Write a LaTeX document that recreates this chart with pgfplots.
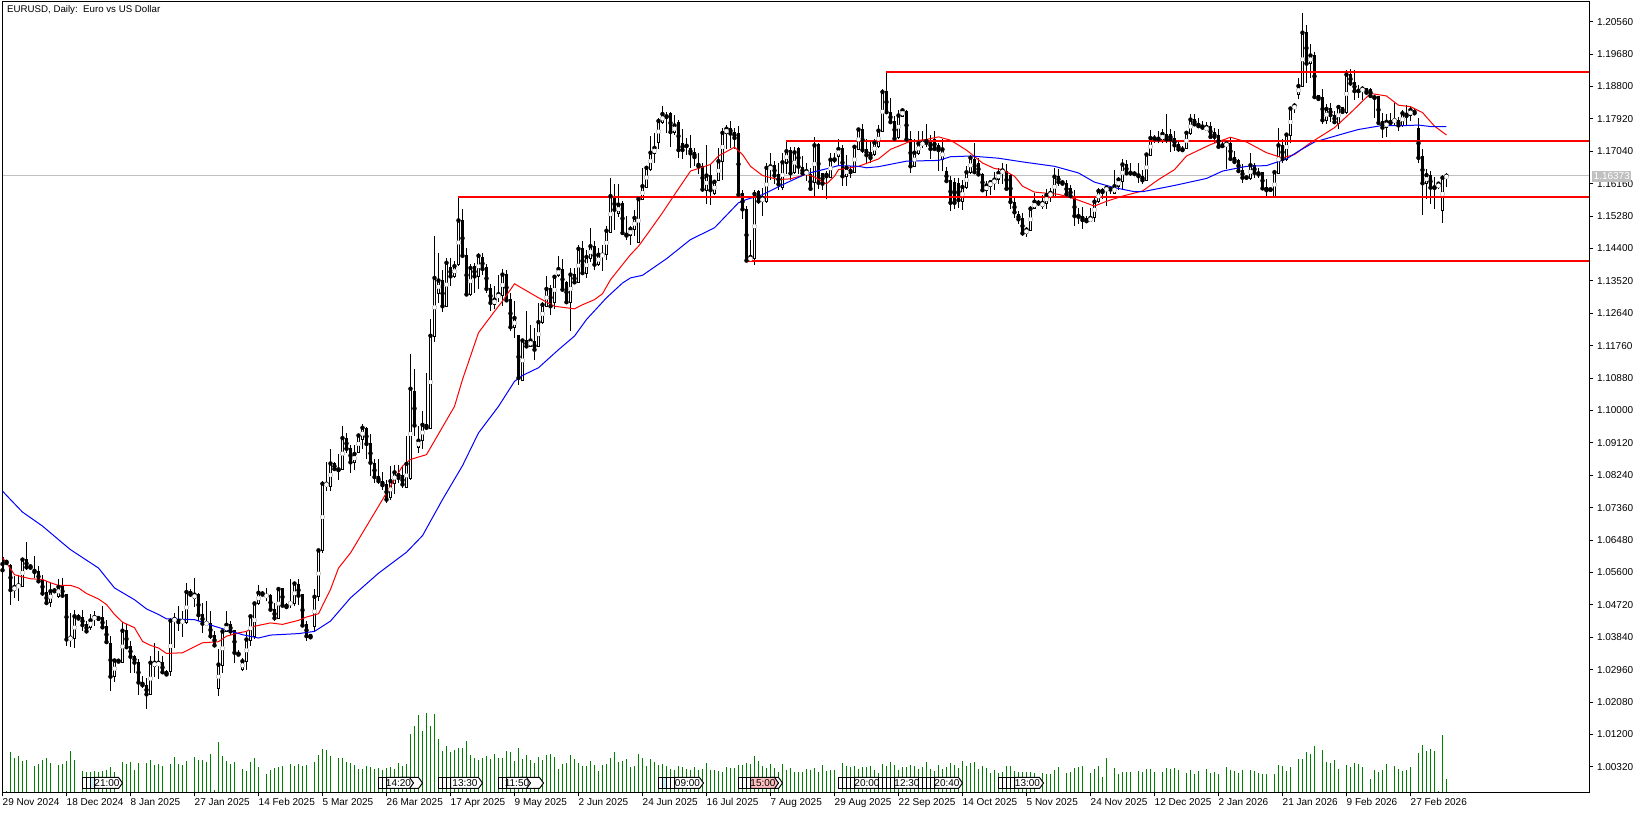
\documentclass[border=0pt]{standalone}
\usepackage{pgfplots}
\pgfplotsset{compat=1.18}
\usepackage{pgfplotstable}
\usepackage{fontspec}
\setmainfont{Liberation Sans}
\pgfplotstableread{
k o h l c
0 1.0600 1.0604 1.0565 1.0566
1 1.0592 1.0595 1.0582 1.0586
2 1.0580 1.0582 1.0471 1.0512
3 1.0512 1.0550 1.0491 1.0521
4 1.0521 1.0552 1.0482 1.0525
5 1.0523 1.0600 1.0521 1.0595
6 1.0595 1.0642 1.0568 1.0574
7 1.0580 1.0583 1.0570 1.0573
8 1.0568 1.0606 1.0545 1.0561
9 1.0562 1.0577 1.0532 1.0536
10 1.0539 1.0554 1.0496 1.0503
11 1.0505 1.0536 1.0473 1.0477
12 1.0479 1.0532 1.0467 1.0509
13 1.0514 1.0518 1.0505 1.0509
14 1.0496 1.0541 1.0491 1.0521
15 1.0521 1.0545 1.0491 1.0497
16 1.0500 1.0502 1.0360 1.0378
17 1.0378 1.0450 1.0357 1.0383
18 1.0380 1.0458 1.0355 1.0441
19 1.0443 1.0446 1.0430 1.0435
20 1.0439 1.0459 1.0400 1.0417
21 1.0419 1.0428 1.0396 1.0400
22 1.0411 1.0446 1.0405 1.0430
23 1.0434 1.0455 1.0414 1.0439
24 1.0439 1.0440 1.0433 1.0434
25 1.0437 1.0470 1.0407 1.0411
26 1.0412 1.0432 1.0367 1.0371
27 1.0367 1.0387 1.0238 1.0277
28 1.0277 1.0321 1.0262 1.0321
29 1.0323 1.0325 1.0315 1.0318
30 1.0316 1.0426 1.0315 1.0402
31 1.0402 1.0419 1.0355 1.0357
32 1.0360 1.0373 1.0287 1.0331
33 1.0333 1.0337 1.0287 1.0315
34 1.0316 1.0324 1.0227 1.0261
35 1.0262 1.0278 1.0247 1.0254
36 1.0253 1.0274 1.0190 1.0229
37 1.0229 1.0333 1.0229 1.0315
38 1.0306 1.0369 1.0275 1.0315
39 1.0308 1.0346 1.0272 1.0315
40 1.0315 1.0333 1.0287 1.0289
41 1.0290 1.0295 1.0280 1.0283
42 1.0292 1.0432 1.0278 1.0429
43 1.0428 1.0450 1.0355 1.0434
44 1.0432 1.0470 1.0400 1.0425
45 1.0425 1.0455 1.0385 1.0428
46 1.0423 1.0532 1.0421 1.0507
47 1.0509 1.0514 1.0494 1.0500
48 1.0490 1.0545 1.0467 1.0500
49 1.0500 1.0505 1.0428 1.0444
50 1.0446 1.0477 1.0396 1.0421
51 1.0420 1.0482 1.0419 1.0423
52 1.0421 1.0455 1.0378 1.0387
53 1.0390 1.0400 1.0360 1.0362
54 1.0244 1.0351 1.0224 1.0310
55 1.0308 1.0405 1.0287 1.0400
56 1.0399 1.0455 1.0398 1.0418
57 1.0419 1.0428 1.0391 1.0400
58 1.0402 1.0405 1.0315 1.0342
59 1.0342 1.0349 1.0333 1.0337
60 1.0296 1.0328 1.0292 1.0319
61 1.0319 1.0400 1.0296 1.0378
62 1.0376 1.0443 1.0360 1.0441
63 1.0385 1.0477 1.0378 1.0476
64 1.0475 1.0527 1.0473 1.0505
65 1.0506 1.0509 1.0497 1.0500
66 1.0496 1.0518 1.0482 1.0497
67 1.0498 1.0502 1.0458 1.0459
68 1.0459 1.0477 1.0428 1.0436
69 1.0436 1.0518 1.0434 1.0515
70 1.0517 1.0518 1.0468 1.0470
71 1.0473 1.0477 1.0461 1.0466
72 1.0476 1.0541 1.0464 1.0477
73 1.0477 1.0534 1.0470 1.0530
74 1.0527 1.0541 1.0473 1.0497
75 1.0500 1.0502 1.0412 1.0416
76 1.0419 1.0428 1.0373 1.0387
77 1.0391 1.0393 1.0382 1.0384
78 1.0414 1.0515 1.0400 1.0494
79 1.0494 1.0622 1.0482 1.0620
80 1.0620 1.0808 1.0612 1.0801
81 1.0796 1.0860 1.0781 1.0801
82 1.0794 1.0896 1.0781 1.0856
83 1.0856 1.0859 1.0839 1.0841
84 1.0842 1.0883 1.0812 1.0838
85 1.0841 1.0957 1.0839 1.0925
86 1.0925 1.0939 1.0885 1.0896
87 1.0896 1.0907 1.0830 1.0859
88 1.0859 1.0907 1.0837 1.0882
89 1.0887 1.0936 1.0885 1.0932
90 1.0921 1.0962 1.0894 1.0953
91 1.0950 1.0954 1.0868 1.0909
92 1.0909 1.0936 1.0821 1.0858
93 1.0856 1.0867 1.0803 1.0819
94 1.0820 1.0867 1.0799 1.0808
95 1.0808 1.0832 1.0785 1.0797
96 1.0799 1.0812 1.0749 1.0758
97 1.0763 1.0849 1.0758 1.0808
98 1.0803 1.0853 1.0772 1.0832
99 1.0830 1.0853 1.0803 1.0817
100 1.0823 1.0850 1.0790 1.0799
101 1.0792 1.0930 1.0790 1.0855
102 1.0814 1.1152 1.0812 1.1059
103 1.1052 1.1113 1.0930 1.0959
104 1.0900 1.0957 1.0885 1.0918
105 1.0919 1.0998 1.0894 1.0961
106 1.0962 1.1102 1.0953 1.0953
107 1.0951 1.1247 1.0950 1.1203
108 1.1200 1.1475 1.1185 1.1360
109 1.1319 1.1428 1.1292 1.1353
110 1.1353 1.1382 1.1267 1.1283
111 1.1283 1.1414 1.1281 1.1401
112 1.1389 1.1414 1.1337 1.1364
113 1.1364 1.1405 1.1360 1.1392
114 1.1396 1.1579 1.1393 1.1516
115 1.1516 1.1547 1.1419 1.1420
116 1.1420 1.1441 1.1310 1.1315
117 1.1315 1.1398 1.1312 1.1387
118 1.1390 1.1401 1.1319 1.1364
119 1.1363 1.1428 1.1330 1.1420
120 1.1414 1.1428 1.1369 1.1384
121 1.1387 1.1399 1.1319 1.1330
122 1.1330 1.1344 1.1269 1.1292
123 1.1289 1.1337 1.1276 1.1301
124 1.1306 1.1369 1.1294 1.1316
125 1.1312 1.1384 1.1283 1.1369
126 1.1369 1.1382 1.1294 1.1299
127 1.1301 1.1319 1.1215 1.1226
128 1.1224 1.1298 1.1197 1.1251
129 1.1203 1.1206 1.1070 1.1088
130 1.1082 1.1190 1.1079 1.1190
131 1.1190 1.1271 1.1170 1.1174
132 1.1174 1.1233 1.1173 1.1190
133 1.1186 1.1224 1.1136 1.1165
134 1.1174 1.1292 1.1173 1.1240
135 1.1238 1.1294 1.1236 1.1287
136 1.1283 1.1366 1.1281 1.1330
137 1.1330 1.1342 1.1258 1.1283
138 1.1292 1.1364 1.1276 1.1363
139 1.1366 1.1420 1.1363 1.1384
140 1.1384 1.1410 1.1326 1.1328
141 1.1348 1.1351 1.1292 1.1294
142 1.1292 1.1387 1.1215 1.1369
143 1.1369 1.1387 1.1346 1.1348
144 1.1348 1.1450 1.1346 1.1439
145 1.1439 1.1459 1.1369 1.1373
146 1.1372 1.1437 1.1360 1.1417
147 1.1414 1.1496 1.1402 1.1446
148 1.1446 1.1459 1.1382 1.1396
149 1.1396 1.1441 1.1392 1.1423
150 1.1420 1.1450 1.1378 1.1423
151 1.1423 1.1500 1.1408 1.1488
152 1.1484 1.1631 1.1482 1.1582
153 1.1577 1.1616 1.1491 1.1545
154 1.1534 1.1615 1.1525 1.1559
155 1.1561 1.1568 1.1478 1.1482
156 1.1480 1.1527 1.1462 1.1475
157 1.1475 1.1500 1.1450 1.1493
158 1.1491 1.1545 1.1473 1.1523
159 1.1457 1.1583 1.1455 1.1574
160 1.1573 1.1659 1.1571 1.1609
161 1.1606 1.1665 1.1605 1.1659
162 1.1654 1.1745 1.1650 1.1700
163 1.1697 1.1754 1.1672 1.1713
164 1.1729 1.1795 1.1709 1.1786
165 1.1781 1.1828 1.1779 1.1805
166 1.1801 1.1810 1.1754 1.1797
167 1.1806 1.1810 1.1716 1.1756
168 1.1756 1.1801 1.1747 1.1774
169 1.1783 1.1790 1.1686 1.1707
170 1.1725 1.1765 1.1683 1.1707
171 1.1720 1.1740 1.1695 1.1718
172 1.1710 1.1749 1.1659 1.1698
173 1.1700 1.1713 1.1663 1.1688
174 1.1671 1.1700 1.1641 1.1663
175 1.1663 1.1672 1.1593 1.1600
176 1.1598 1.1722 1.1562 1.1638
177 1.1638 1.1668 1.1558 1.1598
178 1.1589 1.1627 1.1586 1.1621
179 1.1625 1.1713 1.1623 1.1677
180 1.1677 1.1767 1.1625 1.1754
181 1.1752 1.1775 1.1709 1.1765
182 1.1767 1.1787 1.1713 1.1752
183 1.1756 1.1767 1.1709 1.1740
184 1.1752 1.1772 1.1582 1.1586
185 1.1588 1.1600 1.1520 1.1546
186 1.1546 1.1555 1.1403 1.1407
187 1.1407 1.1464 1.1402 1.1417
188 1.1412 1.1600 1.1394 1.1588
189 1.1595 1.1598 1.1562 1.1568
190 1.1568 1.1605 1.1528 1.1577
191 1.1568 1.1671 1.1564 1.1659
192 1.1654 1.1698 1.1627 1.1663
193 1.1665 1.1677 1.1614 1.1638
194 1.1641 1.1671 1.1600 1.1614
195 1.1605 1.1700 1.1600 1.1674
196 1.1672 1.1731 1.1641 1.1704
197 1.1706 1.1716 1.1627 1.1644
198 1.1645 1.1716 1.1641 1.1701
199 1.1710 1.1716 1.1641 1.1662
200 1.1659 1.1691 1.1636 1.1644
201 1.1641 1.1672 1.1623 1.1650
202 1.1641 1.1659 1.1600 1.1602
203 1.1618 1.1743 1.1580 1.1720
204 1.1722 1.1727 1.1602 1.1618
205 1.1644 1.1645 1.1600 1.1616
206 1.1644 1.1650 1.1575 1.1636
207 1.1634 1.1698 1.1632 1.1681
208 1.1684 1.1700 1.1672 1.1680
209 1.1691 1.1736 1.1663 1.1710
210 1.1710 1.1722 1.1609 1.1636
211 1.1636 1.1695 1.1609 1.1659
212 1.1654 1.1663 1.1632 1.1647
213 1.1647 1.1722 1.1645 1.1716
214 1.1709 1.1766 1.1707 1.1763
215 1.1763 1.1777 1.1700 1.1707
216 1.1709 1.1736 1.1672 1.1693
217 1.1700 1.1731 1.1671 1.1686
218 1.1695 1.1736 1.1691 1.1727
219 1.1716 1.1774 1.1713 1.1760
220 1.1758 1.1874 1.1757 1.1865
221 1.1865 1.1917 1.1808 1.1810
222 1.1810 1.1849 1.1781 1.1783
223 1.1786 1.1799 1.1731 1.1738
224 1.1740 1.1817 1.1736 1.1801
225 1.1799 1.1822 1.1797 1.1815
226 1.1813 1.1817 1.1731 1.1736
227 1.1736 1.1758 1.1645 1.1663
228 1.1663 1.1736 1.1662 1.1700
229 1.1698 1.1758 1.1695 1.1725
230 1.1722 1.1758 1.1713 1.1727
231 1.1736 1.1779 1.1716 1.1727
232 1.1731 1.1749 1.1682 1.1710
233 1.1736 1.1758 1.1707 1.1710
234 1.1720 1.1725 1.1650 1.1707
235 1.1681 1.1736 1.1650 1.1709
236 1.1650 1.1662 1.1618 1.1623
237 1.1625 1.1636 1.1541 1.1564
238 1.1618 1.1632 1.1548 1.1564
239 1.1616 1.1632 1.1550 1.1571
240 1.1568 1.1627 1.1544 1.1607
241 1.1605 1.1663 1.1602 1.1647
242 1.1645 1.1695 1.1643 1.1686
243 1.1682 1.1727 1.1645 1.1647
244 1.1670 1.1686 1.1638 1.1641
245 1.1641 1.1645 1.1596 1.1598
246 1.1597 1.1623 1.1582 1.1611
247 1.1609 1.1625 1.1584 1.1620
248 1.1616 1.1647 1.1600 1.1627
249 1.1627 1.1659 1.1616 1.1645
250 1.1644 1.1673 1.1614 1.1652
251 1.1650 1.1668 1.1600 1.1602
252 1.1639 1.1641 1.1546 1.1566
253 1.1566 1.1577 1.1523 1.1538
254 1.1532 1.1543 1.1505 1.1519
255 1.1521 1.1535 1.1473 1.1481
256 1.1481 1.1499 1.1471 1.1491
257 1.1490 1.1555 1.1487 1.1548
258 1.1548 1.1591 1.1546 1.1567
259 1.1567 1.1571 1.1555 1.1562
260 1.1555 1.1584 1.1546 1.1564
261 1.1562 1.1602 1.1546 1.1585
262 1.1582 1.1605 1.1566 1.1591
263 1.1580 1.1659 1.1577 1.1635
264 1.1635 1.1656 1.1609 1.1620
265 1.1623 1.1627 1.1611 1.1616
266 1.1616 1.1627 1.1582 1.1587
267 1.1602 1.1611 1.1578 1.1582
268 1.1577 1.1600 1.1502 1.1528
269 1.1530 1.1550 1.1505 1.1526
270 1.1528 1.1553 1.1493 1.1517
271 1.1520 1.1528 1.1510 1.1514
272 1.1514 1.1550 1.1511 1.1523
273 1.1523 1.1582 1.1511 1.1567
274 1.1567 1.1605 1.1564 1.1596
275 1.1600 1.1605 1.1573 1.1593
276 1.1596 1.1609 1.1555 1.1605
277 1.1603 1.1607 1.1587 1.1600
278 1.1589 1.1654 1.1587 1.1609
279 1.1607 1.1634 1.1600 1.1627
280 1.1623 1.1682 1.1598 1.1668
281 1.1668 1.1680 1.1641 1.1644
282 1.1647 1.1673 1.1636 1.1644
283 1.1645 1.1650 1.1636 1.1642
284 1.1641 1.1673 1.1618 1.1636
285 1.1636 1.1654 1.1616 1.1625
286 1.1625 1.1700 1.1623 1.1695
287 1.1693 1.1761 1.1691 1.1740
288 1.1740 1.1749 1.1727 1.1738
289 1.1740 1.1758 1.1727 1.1736
290 1.1734 1.1765 1.1727 1.1751
291 1.1749 1.1804 1.1727 1.1736
292 1.1749 1.1763 1.1702 1.1736
293 1.1738 1.1760 1.1704 1.1720
294 1.1722 1.1731 1.1702 1.1709
295 1.1711 1.1718 1.1704 1.1707
296 1.1711 1.1758 1.1709 1.1754
297 1.1752 1.1804 1.1749 1.1790
298 1.1790 1.1804 1.1774 1.1777
299 1.1779 1.1795 1.1768 1.1772
300 1.1774 1.1786 1.1763 1.1768
301 1.1761 1.1783 1.1758 1.1770
302 1.1772 1.1783 1.1740 1.1743
303 1.1754 1.1768 1.1727 1.1743
304 1.1747 1.1763 1.1713 1.1716
305 1.1722 1.1731 1.1713 1.1718
306 1.1718 1.1731 1.1657 1.1725
307 1.1725 1.1740 1.1682 1.1683
308 1.1686 1.1704 1.1673 1.1675
309 1.1679 1.1683 1.1645 1.1650
310 1.1652 1.1668 1.1618 1.1632
311 1.1634 1.1638 1.1627 1.1632
312 1.1630 1.1698 1.1627 1.1666
313 1.1665 1.1673 1.1632 1.1645
314 1.1647 1.1659 1.1632 1.1641
315 1.1645 1.1647 1.1600 1.1603
316 1.1605 1.1629 1.1582 1.1598
317 1.1602 1.1604 1.1597 1.1599
318 1.1580 1.1650 1.1578 1.1647
319 1.1644 1.1768 1.1641 1.1720
320 1.1720 1.1736 1.1672 1.1683
321 1.1682 1.1754 1.1677 1.1749
322 1.1747 1.1824 1.1725 1.1820
323 1.1819 1.1834 1.1808 1.1828
324 1.1858 1.1903 1.1846 1.1881
325 1.1881 1.2078 1.1879 1.2026
326 1.2026 1.2048 1.1890 1.1942
327 1.1942 1.1994 1.1903 1.1964
328 1.1964 1.1973 1.1849 1.1851
329 1.1854 1.1855 1.1844 1.1846
330 1.1849 1.1873 1.1777 1.1788
331 1.1788 1.1831 1.1777 1.1819
332 1.1819 1.1835 1.1783 1.1802
333 1.1802 1.1813 1.1779 1.1783
334 1.1779 1.1826 1.1765 1.1824
335 1.1822 1.1825 1.1808 1.1811
336 1.1808 1.1924 1.1806 1.1912
337 1.1912 1.1926 1.1881 1.1888
338 1.1892 1.1924 1.1844 1.1867
339 1.1870 1.1885 1.1849 1.1867
340 1.1867 1.1882 1.1844 1.1874
341 1.1873 1.1876 1.1858 1.1863
342 1.1873 1.1876 1.1849 1.1854
343 1.1852 1.1858 1.1795 1.1849
344 1.1852 1.1854 1.1779 1.1781
345 1.1784 1.1808 1.1739 1.1768
346 1.1768 1.1806 1.1742 1.1784
347 1.1786 1.1808 1.1777 1.1781
348 1.1785 1.1834 1.1772 1.1788
349 1.1788 1.1797 1.1758 1.1774
350 1.1774 1.1816 1.1771 1.1807
351 1.1807 1.1829 1.1774 1.1800
352 1.1801 1.1827 1.1786 1.1816
353 1.1815 1.1818 1.1804 1.1807
354 1.1765 1.1795 1.1671 1.1686
355 1.1689 1.1709 1.1530 1.1617
356 1.1617 1.1657 1.1573 1.1639
357 1.1639 1.1650 1.1560 1.1605
358 1.1608 1.1634 1.1546 1.1604
359 1.1605 1.1619 1.1602 1.1616
360 1.1544 1.1639 1.1510 1.1632
361 1.1632 1.1646 1.1608 1.16373
}\ohlc
\pgfplotstableread{
k v
1 3
2 120
3 103
4 110
5 94
6 97
8 79
9 85
10 97
11 103
12 88
14 82
15 85
16 94
17 124
18 97
20 64
21 60
22 60
23 64
24 61
25 64
26 67
27 76
28 61
30 91
31 85
32 91
33 67
34 88
36 88
37 97
38 82
39 85
40 79
42 85
43 106
44 85
45 82
46 94
48 106
49 97
50 97
51 91
52 115
53 6
54 151
55 109
56 94
57 85
58 91
60 70
61 64
62 91
63 103
64 76
66 55
67 67
68 73
69 76
70 79
72 85
73 79
74 85
75 79
76 82
78 91
79 112
80 130
81 127
82 109
84 103
85 103
86 91
87 88
88 82
89 70
90 70
91 79
92 76
93 70
94 73
95 67
96 73
97 76
98 70
99 88
100 79
101 85
102 175
103 199
104 232
105 184
106 238
107 199
108 235
109 160
110 124
111 139
112 121
113 127
114 133
115 133
116 154
117 112
118 103
119 97
120 103
121 109
122 100
123 115
124 103
125 103
126 124
127 121
128 94
129 133
130 100
131 112
132 97
133 88
134 106
135 97
136 112
137 115
138 106
139 70
140 85
141 88
142 112
143 100
144 88
145 79
146 79
147 94
148 82
149 64
150 82
151 85
152 103
153 121
154 91
155 94
156 100
157 76
158 79
159 115
160 103
161 79
162 100
163 91
164 82
165 85
166 79
167 70
168 67
169 79
170 76
171 70
172 67
173 76
174 67
175 70
176 88
177 67
178 67
179 64
180 61
181 76
182 73
183 73
184 82
185 82
186 88
187 85
188 109
189 94
190 79
191 73
192 85
193 73
194 61
195 85
196 67
197 73
198 61
199 61
200 61
201 70
202 67
203 73
204 61
205 82
206 64
207 67
208 67
210 88
211 79
212 76
213 79
214 70
215 76
216 76
217 79
218 67
219 58
220 85
221 79
222 91
223 82
224 67
225 76
226 76
227 82
228 79
229 70
230 76
231 91
232 70
233 64
234 82
235 70
236 76
237 88
238 82
239 73
240 94
241 79
242 88
243 91
244 70
245 79
246 73
247 58
248 67
249 58
250 61
251 79
252 79
253 64
254 61
255 61
256 61
257 61
258 58
260 57
261 55
262 55
263 67
264 76
266 58
267 61
268 73
269 76
270 79
272 58
273 70
274 79
275 46
276 103
278 73
279 55
280 61
281 61
282 61
284 64
285 61
286 70
287 70
288 61
290 61
291 73
292 70
293 73
294 67
296 58
297 67
298 55
299 64
301 70
302 58
303 61
304 55
306 76
307 67
308 64
309 58
310 67
312 67
313 64
314 58
315 55
316 55
318 55
319 82
320 79
321 64
322 76
324 100
325 100
326 121
327 115
328 139
330 127
331 91
332 88
333 97
334 70
336 82
337 76
338 88
339 85
340 76
342 40
343 67
344 61
345 67
346 85
348 79
349 70
350 64
351 67
352 76
354 118
355 142
356 124
357 130
358 124
359 4
360 172
361 40
}\vol
\definecolor{mtgreen}{RGB}{0,128,0}
\definecolor{mtgray}{RGB}{192,192,192}
\newcommand{\evbr}[2][white]{%
  \fill[#1] (#2pt,25pt) rectangle ++(4pt,12pt);
  \draw[black,line width=1pt] (#2pt+4pt,36.5pt)--(#2pt,36.5pt)--(#2pt,25.5pt)--(#2pt+4pt,25.5pt);}
\newcommand{\evtag}[4][white]{%
  \draw[black,line width=1pt,fill=#1] (#2pt,36.5pt)--(#3pt-4pt,36.5pt)--(#3pt,31pt)--(#3pt-4pt,25.5pt)--(#2pt,25.5pt)--cycle;
  \node[inner sep=0pt,font=\fontsize{10}{10}\selectfont] at ({(#2+#3-3)*1pt/2},31pt) {#4};}
\begin{document}
\begin{tikzpicture}[x=1pt,y=1pt]
\useasboundingbox (0pt,0pt) rectangle (1642pt,814pt);
\begin{axis}[at={(2.5pt,21.5pt)},anchor=south west,scale only axis,width=1587pt,height=791pt,
  xmin=0,xmax=396.75,ymin=0,ymax=2373,hide axis]
\addplot[ycomb,mtgreen,line width=1pt,mark=none] table[x=k,y=v] {\vol};
\end{axis}
\begin{axis}[at={(2.5pt,21.5pt)},anchor=south west,scale only axis,width=1587pt,height=791pt,
  xmin=0,xmax=396.75,ymin=0.99625,ymax=1.21106,
  axis line style={black,line width=1pt},
  tick style={black,line width=1pt},
  major tick length=4pt,tick align=outside,
  xtick pos=bottom,ytick pos=right,yticklabel pos=right,
  xtick={0,16,32,48,64,80,96,112,128,144,160,176,192,208,224,240,256,272,288,304,320,336,352},
  xticklabels={29 Nov 2024,18 Dec 2024,8 Jan 2025,27 Jan 2025,14 Feb 2025,5 Mar 2025,26 Mar 2025,17 Apr 2025,9 May 2025,2 Jun 2025,24 Jun 2025,16 Jul 2025,7 Aug 2025,29 Aug 2025,22 Sep 2025,14 Oct 2025,5 Nov 2025,24 Nov 2025,12 Dec 2025,2 Jan 2026,21 Jan 2026,9 Feb 2026,27 Feb 2026},
  ytick={1.0032,1.012,1.0208,1.0296,1.0384,1.0472,1.056,1.0648,1.0736,1.0824,1.0912,1.1,1.1088,1.1176,1.1264,1.1352,1.144,1.1528,1.1616,1.1704,1.1792,1.188,1.1968,1.2056},
  yticklabels={1.00320,1.01200,1.02080,1.02960,1.03840,1.04720,1.05600,1.06480,1.07360,1.08240,1.09120,1.10000,1.10880,1.11760,1.12640,1.13520,1.14400,1.15280,1.16160,1.17040,1.17920,1.18800,1.19680,1.20560},
  ticklabel style={font=\fontsize{10}{10}\selectfont},
  xticklabel style={anchor=north west,inner xsep=0pt,inner ysep=2pt},
  clip=true]
\addplot[mtgray,line width=1pt,forget plot] coordinates {(0,1.16373) (396.75,1.16373)};
% wicks
\addplot[only marks,mark=none,black,forget plot,error bars/.cd,y dir=both,y explicit,error mark=none,
  error bar style={draw=black,line width=1pt}]
  table[x=k,y=c,y error plus expr=\thisrow{h}-\thisrow{c},y error minus expr=\thisrow{c}-\thisrow{l}] {\ohlc};
% bodies
\addplot[only marks,mark=none,black,forget plot,error bars/.cd,y dir=both,y explicit,error mark=none,
  error bar style={draw=black,line width=3pt}]
  table[x=k,y expr=(\thisrow{o}+\thisrow{c})/2,
    y error expr={abs(\thisrow{o}-\thisrow{c})/2+0.00014}] {\ohlc};
% hollow interior of the rising candles
\addplot[only marks,mark=none,white,forget plot,error bars/.cd,y dir=both,y explicit,error mark=none,
  error bar style={draw=white,line width=1pt}]
  table[x=k,y expr={(\thisrow{c}>\thisrow{o}) ? (\thisrow{o}+\thisrow{c})/2 : nan},
    y error expr={max(abs(\thisrow{o}-\thisrow{c})/2-0.00014,0.00012)}] {\ohlc};
% moving averages
\addplot[red,line width=1pt,mark=none] coordinates {
(0,1.0600)(1,1.0586)(3,1.0554)(5,1.0548)(7,1.0543)(10,1.0541)(12,1.0532)(14,1.0525)(17,1.0525)(19,1.0518)(21,1.0503)(24,1.0488)(26,1.0473)(28,1.0446)(30,1.0425)(33,1.0410)(35,1.0373)(37,1.0362)(39,1.0355)(41,1.0340)(45,1.0342)(47,1.0353)(50,1.0369)(54,1.0372)(56,1.0387)(59,1.0396)(61,1.0400)(63,1.0414)(67,1.0423)(70,1.0419)(74,1.0430)(76,1.0439)(79,1.0448)(82,1.0514)(84,1.0572)(87,1.0613)(95,1.0758)(100,1.0849)(102,1.0867)(106,1.0880)(113,1.1011)(115,1.1084)(119,1.1211)(123,1.1269)(125,1.1297)(128,1.1344)(134,1.1306)(138,1.1283)(143,1.1276)(145,1.1287)(148,1.1301)(150,1.1317)(152,1.1355)(155,1.1396)(157,1.1423)(159,1.1446)(162,1.1491)(165,1.1537)(168,1.1586)(172,1.1650)(177,1.1668)(179,1.1691)(183,1.1715)(185,1.1695)(187,1.1663)(190,1.1638)(194,1.1627)(197,1.1629)(201,1.1641)(203,1.1634)(206,1.1615)(208,1.1636)(209,1.1654)(214,1.1663)(219,1.1683)(222,1.1709)(227,1.1731)(231,1.1736)(234,1.1743)(237,1.1734)(241,1.1707)(245,1.1672)(248,1.1657)(250,1.1654)(253,1.1636)(255,1.1609)(258,1.1593)(264,1.1587)(268,1.1575)(273,1.1555)(276,1.1568)(280,1.1582)(285,1.1596)(289,1.1627)(293,1.1654)(296,1.1691)(302,1.1722)(307,1.1742)(311,1.1729)(316,1.1700)(320,1.1686)(323,1.1695)(327,1.1727)(333,1.1768)(337,1.1808)(342,1.1861)(346,1.1854)(349,1.1829)(352,1.1825)(355,1.1809)(358,1.1772)(361,1.1748)};
\addplot[blue,line width=1pt,mark=none] coordinates {
(0,1.0781)(2,1.0758)(5,1.0724)(10,1.0686)(15,1.0640)(17,1.0622)(24,1.0572)(28,1.0518)(33,1.0486)(36,1.0461)(39,1.0446)(41,1.0434)(48,1.0432)(53,1.0414)(60,1.0391)(64,1.0382)(67,1.0390)(74,1.0394)(78,1.0400)(82,1.0428)(87,1.0491)(94,1.0558)(101,1.0615)(105,1.0660)(110,1.0758)(115,1.0850)(119,1.0939)(124,1.1011)(128,1.1079)(130,1.1095)(134,1.1116)(139,1.1165)(143,1.1202)(146,1.1247)(151,1.1306)(155,1.1346)(157,1.1360)(160,1.1367)(166,1.1412)(172,1.1464)(178,1.1496)(184,1.1564)(186,1.1573)(190,1.1586)(196,1.1618)(201,1.1643)(207,1.1659)(209,1.1665)(214,1.1663)(216,1.1659)(219,1.1662)(226,1.1677)(234,1.1679)(237,1.1689)(242,1.1691)(249,1.1685)(255,1.1675)(263,1.1663)(269,1.1645)(273,1.1620)(278,1.1605)(283,1.1594)(285,1.1594)(293,1.1611)(301,1.1630)(305,1.1650)(311,1.1663)(316,1.1665)(321,1.1683)(324,1.1704)(328,1.1729)(336,1.1754)(339,1.1763)(345,1.1774)(349,1.1773)(354,1.1775)(357,1.1771)(361,1.1771)};
% horizontal levels
\addplot[red,line width=2pt,mark=none] coordinates {(221,1.1919)(396.75,1.1919)};
\addplot[red,line width=2pt,mark=none] coordinates {(196,1.1731)(396.75,1.1731)};
\addplot[red,line width=2pt,mark=none] coordinates {(114,1.1579)(396.75,1.1579)};
\addplot[red,line width=2pt,mark=none] coordinates {(186,1.1406)(396.75,1.1406)};
\end{axis}
\node[anchor=north west,inner sep=0pt,font=\fontsize{9.7}{10}\selectfont] at (7pt,809pt) {EURUSD, Daily:\ \ Euro vs US Dollar};
% current price tag
\fill[mtgray] (1592pt,632pt) rectangle (1631pt,643pt);
\node[anchor=west,inner sep=0pt,text=white,font=\fontsize{10}{10}\selectfont] at (1593.5pt,637.5pt) {1.16373};
% calendar event tags
\evbr{82.5}\evbr{86.5}\evbr[cyan!20]{90.5}\evtag{94.5}{122.5}{21:00}
\evbr{378.5}\evbr{382.5}\evtag{400.5}{422.5}{}\evtag{386.5}{413.5}{14:20}
\evbr{438.5}\evbr{442.5}\evbr{446.5}\evtag{450.5}{482.5}{13:30}
\evbr{498.5}\evbr{502.5}\evtag{520.5}{543.5}{}\evtag{506.5}{530.5}{11:50}
\evbr{658.5}\evbr[cyan!20]{662.5}\evbr{666.5}\evbr{670.5}\evtag{674.5}{703.5}{09:00}
\evbr{738.5}\evbr{742.5}\evbr{746.5}\evtag{770.5}{782.5}{}\evtag[pink]{750.5}{778.5}{15:00}
\evbr{838.5}\evbr{842.5}\evbr{846.5}\evbr{850.5}\evtag{854.5}{882.5}{20:00}
\evbr{878.5}\evbr{882.5}\evbr{886.5}\evbr{890.5}\evtag{894.5}{922.5}{12:30}
\evbr{918.5}\evbr{922.5}\evbr{926.5}\evbr{930.5}\evtag{934.5}{962.5}{20:40}
\evbr{998.5}\evbr{1002.5}\evbr{1006.5}\evbr{1010.5}\evtag{1014.5}{1043.5}{13:00}
\end{tikzpicture}
\end{document}
